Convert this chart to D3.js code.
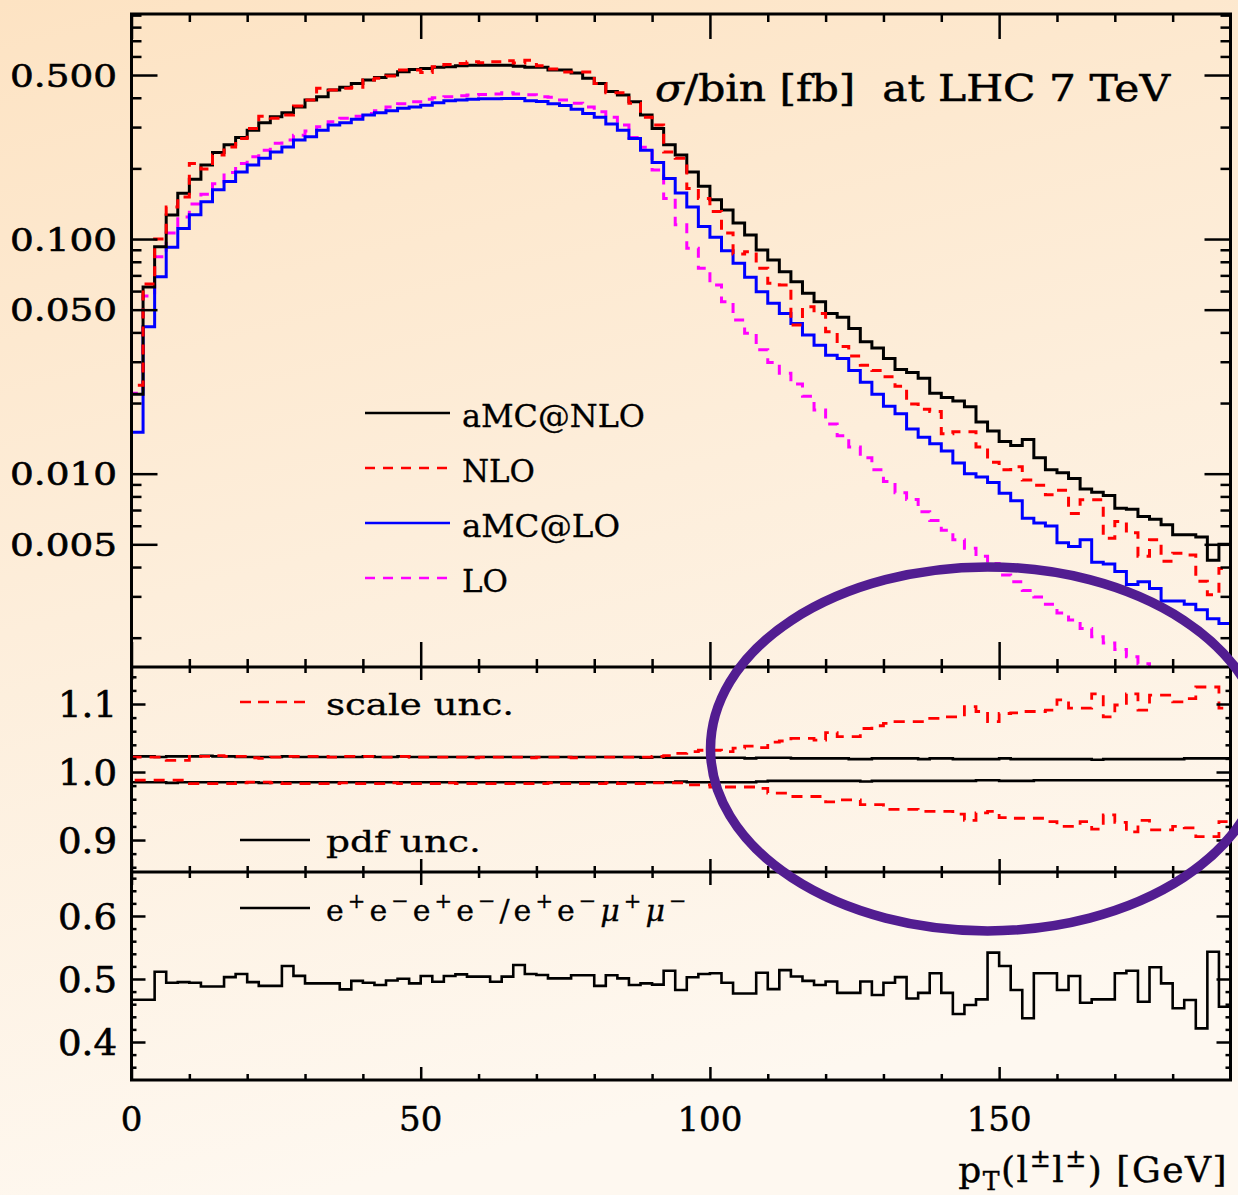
<!DOCTYPE html>
<html>
<head>
<meta charset="utf-8">
<script src="https://cdn.jsdelivr.net/npm/d3@7"></script>
<style>
  html, body { margin: 0; padding: 0; }
  svg { display: block; }
</style>
</head>
<body>
<svg id="chart" width="1238" height="1195"></svg>
<script>
// pT(l+-l+-) histograms, one value per 2 GeV bin from 0 to 190 GeV
var binWidth = 2;
var xMax = 190;

var amcNLO = [0.0218,0.0624,0.0927,0.1266,0.1566,0.180,0.207,0.234,0.252,0.271,
  0.291,0.313,0.332,0.345,0.365,0.391,0.404,0.432,0.443,0.460,
  0.476,0.488,0.500,0.516,0.528,0.533,0.539,0.542,0.547,0.551,
  0.551,0.551,0.551,0.545,0.539,0.539,0.525,0.525,0.510,0.484,
  0.460,0.425,0.411,0.385,0.338,0.296,0.252,0.228,0.193,0.168,
  0.147,0.133,0.117,0.104,0.0898,0.0814,0.0726,0.0658,0.0587,0.0541,
  0.0482,0.0464,0.0416,0.0365,0.0343,0.0310,0.0278,0.0270,0.0255,0.0220,
  0.0211,0.0204,0.0193,0.0166,0.0152,0.0137,0.0132,0.0140,0.0117,0.0104,
  0.0101,0.00953,0.00860,0.00833,0.00808,0.00712,0.00706,0.00657,0.00640,0.00606,
  0.00549,0.00549,0.00537,0.00428,0.00500];
var nlo = [0.0238,0.0643,0.100,0.137,0.151,0.210,0.199,0.228,0.247,0.268,
  0.296,0.334,0.327,0.338,0.369,0.391,0.439,0.432,0.439,0.443,
  0.476,0.484,0.495,0.525,0.525,0.513,0.542,0.555,0.560,0.569,
  0.564,0.569,0.575,0.562,0.578,0.548,0.530,0.515,0.515,0.515,
  0.460,0.420,0.420,0.379,0.330,0.306,0.235,0.221,0.164,0.149,
  0.131,0.106,0.0863,0.0883,0.0750,0.0648,0.0637,0.0430,0.0514,0.0482,
  0.0403,0.0348,0.0317,0.0290,0.0275,0.0259,0.0236,0.0198,0.0188,0.0184,
  0.0148,0.0151,0.0151,0.0130,0.0112,0.0104,0.0107,0.00939,0.00893,0.00813,
  0.00850,0.00677,0.00774,0.00774,0.00531,0.00625,0.00560,0.00445,0.00523,0.00423,
  0.00458,0.00450,0.00348,0.00305,0.00394];
var amcLO = [0.0150,0.0423,0.0690,0.0922,0.111,0.127,0.144,0.162,0.176,0.193,
  0.207,0.221,0.235,0.247,0.264,0.273,0.291,0.306,0.313,0.324,
  0.338,0.345,0.352,0.361,0.365,0.372,0.381,0.388,0.391,0.394,
  0.396,0.396,0.397,0.397,0.388,0.386,0.377,0.371,0.357,0.343,
  0.330,0.309,0.291,0.268,0.239,0.212,0.181,0.157,0.137,0.113,
  0.1017,0.0892,0.0788,0.0687,0.0596,0.0532,0.0482,0.0437,0.0390,0.0353,
  0.0320,0.0310,0.0275,0.0245,0.0218,0.0194,0.0180,0.0155,0.0143,0.0134,
  0.0125,0.0111,0.0100,0.00968,0.00918,0.00825,0.00767,0.00646,0.00616,0.00599,
  0.00508,0.00489,0.00523,0.00419,0.00412,0.00383,0.00337,0.00346,0.00324,0.00287,
  0.00287,0.00278,0.00263,0.00241,0.00230];
var lo = [0.0220,0.0572,0.0840,0.106,0.124,0.141,0.155,0.172,0.192,0.210,
  0.224,0.239,0.256,0.264,0.277,0.289,0.301,0.316,0.327,0.334,
  0.343,0.352,0.365,0.377,0.385,0.394,0.400,0.404,0.408,0.411,
  0.413,0.415,0.420,0.415,0.412,0.404,0.402,0.391,0.379,0.365,
  0.349,0.330,0.306,0.271,0.246,0.197,0.149,0.115,0.0913,0.0750,
  0.0637,0.0541,0.0452,0.0397,0.0337,0.0298,0.0268,0.0241,0.0214,0.0187,
  0.0163,0.0145,0.0130,0.0117,0.0104,0.00925,0.00830,0.00777,0.00689,0.00631,
  0.00574,0.00523,0.00481,0.00445,0.00414,0.00370,0.00346,0.00318,0.00298,0.00278,
  0.00255,0.00238,0.00219,0.00202,0.00190,0.00178,0.00166,0.00155,0.00142,0.00132,
  0.00122,0.00113,0.00105,0.00097,0.00090];

// ratio panel: scale and pdf uncertainty envelopes
var scaleUp = [1.022,1.022,1.022,1.017,1.017,1.023,1.023,1.024,1.023,1.023,
  1.021,1.020,1.022,1.023,1.023,1.023,1.023,1.022,1.023,1.023,
  1.023,1.022,1.022,1.023,1.022,1.022,1.022,1.022,1.022,1.021,
  1.022,1.022,1.022,1.022,1.021,1.022,1.022,1.022,1.021,1.022,
  1.022,1.022,1.022,1.022,1.022,1.023,1.024,1.0275,1.030,1.032,
  1.032,1.030,1.035,1.038,1.036,1.044,1.0456,1.0495,1.0495,1.047,
  1.058,1.052,1.052,1.064,1.068,1.0715,1.074,1.074,1.074,1.079,
  1.081,1.081,1.096,1.089,1.074,1.086,1.087,1.089,1.089,1.091,
  1.106,1.094,1.094,1.115,1.081,1.0985,1.115,1.091,1.113,1.113,
  1.103,1.108,1.125,1.125,1.094];
var scaleDn = [0.988,0.988,0.988,0.988,0.988,0.983,0.983,0.983,0.983,0.984,
  0.985,0.985,0.984,0.983,0.983,0.983,0.983,0.983,0.984,0.983,
  0.983,0.983,0.984,0.983,0.983,0.983,0.983,0.984,0.983,0.983,
  0.983,0.983,0.983,0.983,0.983,0.983,0.984,0.983,0.983,0.983,
  0.983,0.984,0.983,0.983,0.983,0.984,0.984,0.984,0.981,0.981,
  0.978,0.978,0.978,0.978,0.976,0.969,0.969,0.964,0.964,0.964,
  0.956,0.959,0.959,0.952,0.952,0.945,0.945,0.945,0.942,0.942,
  0.942,0.938,0.929,0.940,0.942,0.933,0.932,0.932,0.932,0.927,
  0.920,0.920,0.927,0.916,0.937,0.926,0.912,0.929,0.915,0.915,
  0.920,0.918,0.905,0.905,0.927];
var pdfUp = [1.023,1.023,1.022,1.023,1.023,1.023,1.024,1.023,1.023,1.022,
  1.022,1.022,1.022,1.023,1.022,1.022,1.022,1.022,1.022,1.022,
  1.023,1.022,1.022,1.023,1.022,1.022,1.022,1.022,1.022,1.022,
  1.022,1.022,1.022,1.022,1.022,1.022,1.022,1.022,1.022,1.022,
  1.022,1.022,1.022,1.022,1.021,1.022,1.021,1.021,1.021,1.021,
  1.021,1.021,1.021,1.020,1.021,1.021,1.021,1.020,1.020,1.020,
  1.020,1.020,1.019,1.019,1.020,1.020,1.020,1.020,1.019,1.020,
  1.020,1.019,1.019,1.019,1.019,1.020,1.019,1.019,1.019,1.019,
  1.019,1.019,1.019,1.018,1.019,1.019,1.019,1.019,1.019,1.019,
  1.019,1.020,1.020,1.020,1.020];
var pdfDn = [0.985,0.985,0.985,0.984,0.985,0.985,0.985,0.985,0.985,0.985,
  0.985,0.984,0.985,0.985,0.985,0.985,0.985,0.985,0.985,0.985,
  0.985,0.985,0.985,0.985,0.985,0.985,0.985,0.985,0.985,0.985,
  0.985,0.985,0.985,0.985,0.985,0.985,0.985,0.985,0.985,0.985,
  0.985,0.985,0.985,0.985,0.985,0.985,0.985,0.986,0.985,0.985,
  0.985,0.985,0.985,0.985,0.986,0.987,0.987,0.987,0.987,0.987,
  0.987,0.987,0.987,0.986,0.987,0.987,0.987,0.987,0.987,0.987,
  0.987,0.987,0.987,0.988,0.988,0.987,0.987,0.987,0.988,0.988,
  0.988,0.988,0.988,0.988,0.988,0.988,0.988,0.988,0.988,0.988,
  0.988,0.988,0.988,0.988,0.988];

// ratio e+e-e+e- / e+e-mu+mu-
var flavourRatio = [0.467,0.467,0.5116,0.494,0.495,0.494,0.488,0.488,0.503,0.508,
  0.495,0.489,0.489,0.5206,0.505,0.493,0.493,0.493,0.4836,0.497,
  0.494,0.4905,0.4975,0.5005,0.493,0.5047,0.4957,0.5047,0.5074,0.5037,
  0.5037,0.4957,0.5037,0.5222,0.508,0.5063,0.501,0.501,0.506,0.506,
  0.489,0.506,0.501,0.4905,0.493,0.491,0.513,0.4825,0.5027,0.508,
  0.509,0.494,0.477,0.477,0.510,0.484,0.514,0.504,0.497,0.4905,
  0.496,0.478,0.478,0.496,0.4746,0.494,0.503,0.469,0.478,0.509,
  0.478,0.4444,0.4587,0.4677,0.5418,0.5206,0.4825,0.4376,0.509,0.509,
  0.4825,0.5047,0.4624,0.4677,0.4677,0.509,0.513,0.464,0.5186,0.493,
  0.4535,0.4667,0.4217,0.5433,0.456];

var xTickValues = [0, 50, 100, 150];
var xMinorValues = [10,20,30,40,60,70,80,90,110,120,130,140,160,170,180];
var topMajor = [0.5, 0.1, 0.05, 0.01, 0.005];
var topLabels = ["0.500", "0.100", "0.050", "0.010", "0.005"];
var topMinor = [0.002,0.003,0.004,0.006,0.007,0.008,0.009,0.02,0.03,0.04,0.06,0.07,0.08,0.09,0.2,0.3,0.4,0.6,0.7,0.8,0.9];
var midMajor = [1.1, 1.0, 0.9];
var midLabels = ["1.1", "1.0", "0.9"];
var midMinor = [0.86,0.88,0.92,0.94,0.96,0.98,1.02,1.04,1.06,1.08,1.12,1.14];
var botMajor = [0.6, 0.5, 0.4];
var botLabels = ["0.6", "0.5", "0.4"];
var botMinor = [0.36,0.38,0.42,0.44,0.46,0.48,0.52,0.54,0.56,0.58,0.62,0.64,0.66];

var seriesNames = ["aMC@NLO", "NLO", "aMC@LO", "LO"];

var FONT = '"DejaVu Serif", serif';
var svg = d3.select("#chart");

// background
var defs = svg.append("defs");
var grad = defs.append("linearGradient").attr("id", "bg")
  .attr("x1", 0).attr("y1", 0).attr("x2", 0.25).attr("y2", 1);
grad.append("stop").attr("offset", "0%").attr("stop-color", "#fde3c3");
grad.append("stop").attr("offset", "50%").attr("stop-color", "#fdeedb");
grad.append("stop").attr("offset", "100%").attr("stop-color", "#fef8f0");
svg.append("rect").attr("width", 1238).attr("height", 1195).attr("fill", "url(#bg)");

// layout
var left = 131.5, right = 1230.5;
var yTop0 = 14, yTop1 = 667, yMid1 = 872, yBot1 = 1080;

var x = d3.scaleLinear().domain([0, xMax]).range([left, right]);
var yTop = d3.scaleLog().domain([0.0015, 0.91]).range([yTop1, yTop0]);
var yMid = d3.scaleLinear().domain([0.853, 1.1544]).range([yMid1, yTop1]);
var yBot = d3.scaleLinear().domain([0.3397, 0.6698]).range([yBot1, yMid1]);

function clip(id, y0, y1) {
  defs.append("clipPath").attr("id", id).append("rect")
    .attr("x", left).attr("y", y0).attr("width", right - left).attr("height", y1 - y0);
}
clip("cTop", yTop0, yTop1);
clip("cMid", yTop1, yMid1);
clip("cBot", yMid1, yBot1);

// histogram as a step line, optionally starting from the panel floor at x=0
function histPath(vals, yScale, fromFloor) {
  var pts = vals.map(function (v, i) { return [i * binWidth, v]; });
  pts.push([vals.length * binWidth, vals[vals.length - 1]]);
  if (fromFloor) pts.unshift([0, yScale.domain()[0]]);
  return d3.line()
    .x(function (d) { return x(d[0]); })
    .y(function (d) { return yScale(d[1]); })
    .curve(d3.curveStepAfter)(pts);
}

function drawHist(clipId, vals, yScale, color, width, dash, fromFloor) {
  svg.append("path")
    .attr("clip-path", "url(#" + clipId + ")")
    .attr("d", histPath(vals, yScale, fromFloor))
    .attr("fill", "none")
    .attr("stroke", color)
    .attr("stroke-width", width)
    .attr("stroke-dasharray", dash || null)
    .attr("stroke-linejoin", "miter");
}

// top panel
drawHist("cTop", lo, yTop, "#ff00ff", 3, "10,8", true);
drawHist("cTop", amcLO, yTop, "#0000ff", 3, null, true);
drawHist("cTop", amcNLO, yTop, "#000000", 3, null, true);
drawHist("cTop", nlo, yTop, "#ff0000", 3, "10,8", true);

// middle panel
drawHist("cMid", pdfUp, yMid, "#000", 2.6, null, true);
drawHist("cMid", pdfDn, yMid, "#000", 2.6, null, true);
drawHist("cMid", scaleUp, yMid, "#ff0000", 2.8, "11,8", true);
drawHist("cMid", scaleDn, yMid, "#ff0000", 2.8, "11,8", true);

// bottom panel
drawHist("cBot", flavourRatio, yBot, "#000", 2.6, null, false);

// axes (ticks pointing inwards)
function axisG(axis, tx, ty, w) {
  var g = svg.append("g").attr("transform", "translate(" + tx + "," + ty + ")").call(axis);
  g.select(".domain").remove();
  g.selectAll(".tick line").attr("stroke", "#000").attr("stroke-width", w || 2.5);
  g.selectAll(".tick text").remove();
  return g;
}
function yTicks(scale, major, minor, lenMaj, lenMin) {
  axisG(d3.axisLeft(scale).tickValues(major).tickSize(-lenMaj), left, 0);
  axisG(d3.axisLeft(scale).tickValues(minor).tickSize(-lenMin), left, 0);
  axisG(d3.axisRight(scale).tickValues(major).tickSize(-lenMaj), right, 0);
  axisG(d3.axisRight(scale).tickValues(minor).tickSize(-lenMin), right, 0);
}
function xTicksAt(yPos, dirUp, lenMaj, lenMin) {
  var mk = dirUp ? d3.axisBottom : d3.axisTop;
  axisG(mk(x).tickValues(xTickValues).tickSize(-lenMaj), 0, yPos);
  axisG(mk(x).tickValues(xMinorValues).tickSize(-lenMin), 0, yPos);
}
yTicks(yTop, topMajor, topMinor, 26, 10);
yTicks(yMid, midMajor, midMinor, 14, 5);
yTicks(yBot, botMajor, botMinor, 14, 5);
xTicksAt(yTop0, false, 25, 8);
xTicksAt(yTop1, true, 25, 8);
xTicksAt(yTop1, false, 13, 6);
xTicksAt(yMid1, true, 13, 6);
xTicksAt(yMid1, false, 13, 6);
xTicksAt(yBot1, true, 13, 6);

// frame
svg.append("rect").attr("x", left).attr("y", yTop0)
  .attr("width", right - left).attr("height", yBot1 - yTop0)
  .attr("fill", "none").attr("stroke", "#000").attr("stroke-width", 3);
[yTop1, yMid1].forEach(function (yy) {
  svg.append("line").attr("x1", left).attr("x2", right).attr("y1", yy).attr("y2", yy)
    .attr("stroke", "#000").attr("stroke-width", 3);
});

// tick labels
function yLabels(scale, vals, labels, size, len) {
  svg.append("g").selectAll("text").data(vals).enter().append("text")
    .attr("x", 117).attr("y", function (d) { return scale(d) + size * 0.36; })
    .attr("text-anchor", "end")
    .attr("font-family", FONT).attr("font-size", size)
    .attr("stroke", "#000").attr("stroke-width", 0.6)
    .attr("textLength", len).attr("lengthAdjust", "spacingAndGlyphs")
    .text(function (d, i) { return labels[i]; });
}
yLabels(yTop, topMajor, topLabels, 32, 107);
yLabels(yMid, midMajor, midLabels, 35, 59);
yLabels(yBot, botMajor, botLabels, 35, 59);

svg.append("g").selectAll("text").data(xTickValues).enter().append("text")
  .attr("x", function (d) { return x(d); }).attr("y", 1131)
  .attr("text-anchor", "middle")
  .attr("font-family", FONT).attr("font-size", 34)
  .attr("stroke", "#000").attr("stroke-width", 0.5)
  .text(function (d) { return d; });

// rich text helper: parts of [text, kind]
function rich(xp, yp, size, parts, anchor) {
  var t = svg.append("text").attr("x", xp).attr("y", yp)
    .attr("font-family", FONT).attr("font-size", size)
    .attr("text-anchor", anchor || "start");
  var shift = 0;
  parts.forEach(function (p) {
    var s = t.append("tspan").text(p[0]);
    var want = 0;
    if (p[1] === "sup") { want = -size * 0.42; s.attr("font-size", size * 0.7); }
    if (p[1] === "sub") { want = size * 0.22; s.attr("font-size", size * 0.7); }
    if (p[1] === "it") s.attr("font-style", "italic");
    if (want !== shift) { s.attr("dy", want - shift); shift = want; }
  });
  return t;
}

// title
rich(655, 101, 37, [["σ", "it"], ["/bin [fb]  at LHC 7 TeV", ""]])
  .attr("textLength", 515).attr("lengthAdjust", "spacingAndGlyphs")
  .attr("stroke", "#000").attr("stroke-width", 0.5)
  .attr("xml:space", "preserve");

// x axis title
rich(1228, 1182, 36, [["p", ""], ["T", "sub"], ["(l", ""], ["±", "sup"], ["l", ""], ["±", "sup"], [") [GeV]", ""]], "end")
  .attr("stroke", "#000").attr("stroke-width", 0.4)
  .attr("letter-spacing", 1.5);

// top legend
var legendStyle = [
  { c: "#000", d: null }, { c: "#ff0000", d: "10,8" },
  { c: "#0000ff", d: null }, { c: "#ff00ff", d: "10,8" }
];
var legendRows = [413, 468, 523, 578];
var legendLens = [183, 73, 158, 46];
seriesNames.forEach(function (name, i) {
  svg.append("line").attr("x1", 365).attr("x2", 450)
    .attr("y1", legendRows[i]).attr("y2", legendRows[i])
    .attr("stroke", legendStyle[i].c).attr("stroke-width", 2.6)
    .attr("stroke-dasharray", legendStyle[i].d);
  svg.append("text").attr("x", 462).attr("y", legendRows[i] + 14)
    .attr("font-family", FONT).attr("font-size", 31)
    .attr("stroke", "#000").attr("stroke-width", 0.3)
    .attr("textLength", legendLens[i]).attr("lengthAdjust", "spacingAndGlyphs")
    .text(name);
});

// ratio legends
svg.append("line").attr("x1", 240).attr("x2", 310).attr("y1", 702).attr("y2", 702)
  .attr("stroke", "#ff0000").attr("stroke-width", 2.6).attr("stroke-dasharray", "11,7");
svg.append("text").attr("x", 326).attr("y", 715)
  .attr("font-family", FONT).attr("font-size", 29)
  .attr("stroke", "#000").attr("stroke-width", 0.3)
  .attr("textLength", 188).attr("lengthAdjust", "spacingAndGlyphs")
  .text("scale unc.");
svg.append("line").attr("x1", 240).attr("x2", 310).attr("y1", 840).attr("y2", 840)
  .attr("stroke", "#000").attr("stroke-width", 2.6);
svg.append("text").attr("x", 326).attr("y", 852)
  .attr("font-family", FONT).attr("font-size", 29)
  .attr("stroke", "#000").attr("stroke-width", 0.3)
  .attr("textLength", 155).attr("lengthAdjust", "spacingAndGlyphs")
  .text("pdf unc.");
svg.append("line").attr("x1", 240).attr("x2", 310).attr("y1", 908).attr("y2", 908)
  .attr("stroke", "#000").attr("stroke-width", 2.6);
rich(326, 921, 30, [["e", ""], ["+", "sup"], ["e", ""], ["−", "sup"], ["e", ""], ["+", "sup"], ["e", ""], ["−", "sup"],
  ["/e", ""], ["+", "sup"], ["e", ""], ["−", "sup"], ["μ", "it"], ["+", "sup"], ["μ", "it"], ["−", "sup"]])
  .attr("stroke", "#000").attr("stroke-width", 0.3)
  .attr("letter-spacing", 4);

// highlighted region
svg.append("ellipse")
  .attr("cx", x(148)).attr("cy", yMid(1.034))
  .attr("rx", x(195.9) - x(148)).attr("ry", 182)
  .attr("fill", "none").attr("stroke", "#521d91").attr("stroke-width", 9.5);
</script>
</body>
</html>
